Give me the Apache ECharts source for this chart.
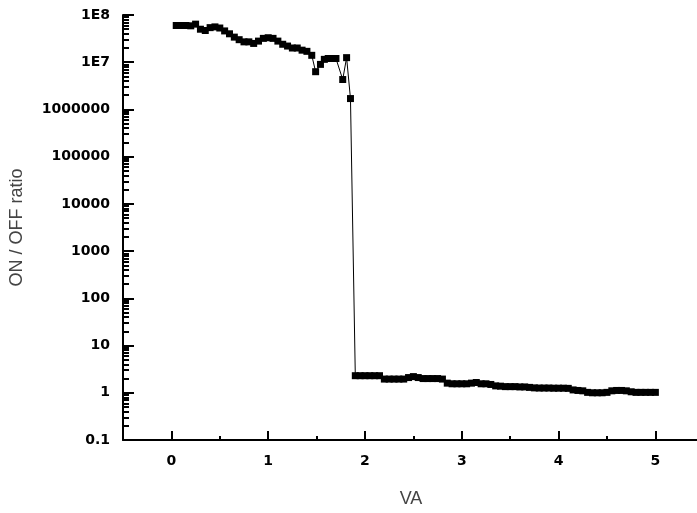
<!DOCTYPE html>
<html><head><meta charset="utf-8">
<script src="https://cdn.jsdelivr.net/npm/echarts@6/dist/echarts.min.js"></script>
<style>html,body{margin:0;padding:0;background:#fff}#c{width:697px;height:513px}</style>
</head><body><div id="c"></div>
<script>
const voltage = [0.05,0.10,0.15,0.20,0.25,0.30,0.35,0.40,0.45,0.50,0.55,0.60,0.65,0.70,0.75,0.80,0.85,0.90,0.95,1.00,1.05,1.10,1.15,1.20,1.25,1.30,1.35,1.40,1.45,1.49,1.54,1.58,1.62,1.66,1.70,1.77,1.81,1.85,
  1.90,1.95,2.00,2.05,2.10,2.15,2.20,2.25,2.30,2.35,2.40,2.45,2.50,2.55,2.60,2.65,2.70,2.75,2.80,2.85,2.90,2.95,3.00,3.05,3.10,3.15,3.20,3.25,3.30,3.35,3.40,3.45,3.50,3.55,3.60,3.65,3.70,3.75,3.80,3.85,3.90,3.95,4.00,4.05,4.10,4.15,4.20,4.25,4.30,4.35,4.40,4.45,4.50,4.55,4.60,4.65,4.70,4.75,4.80,4.85,4.90,4.95,5.00];
const ratio = [6.0e7,6.0e7,6.0e7,5.9e7,6.4e7,5.0e7,4.7e7,5.4e7,5.6e7,5.3e7,4.6e7,4.0e7,3.4e7,3.0e7,2.7e7,2.7e7,2.5e7,2.8e7,3.2e7,3.3e7,3.2e7,2.8e7,2.4e7,2.2e7,2.0e7,2.0e7,1.8e7,1.7e7,1.4e7,6.3e6,9.0e6,1.15e7,1.2e7,1.2e7,1.2e7,4.3e6,1.25e7,1.7e6,
  2.3,2.3,2.3,2.3,2.3,2.3,1.95,1.95,1.95,1.95,1.95,2.1,2.2,2.1,2.0,2.0,2.0,2.0,1.95,1.6,1.55,1.55,1.55,1.55,1.6,1.65,1.55,1.55,1.5,1.4,1.38,1.35,1.35,1.35,1.33,1.33,1.3,1.27,1.26,1.26,1.26,1.25,1.25,1.25,1.24,1.15,1.12,1.1,1.02,1.0,1.0,1.0,1.02,1.1,1.12,1.12,1.1,1.05,1.02,1.02,1.02,1.02,1.02];
const yTickValues = [0.1,1,10,100,1000,10000,100000,1000000,1e7,1e8];
const yTickLabels = ['0.1','1','10','100','1000','10000','100000','1000000','1E7','1E8'];
const xTickValues = [0,1,2,3,4,5];
const xMinorValues = [0.5,1.5,2.5,3.5,4.5];
const xTitle = 'VA';
const yTitle = 'ON / OFF ratio';

const yMinor = [];
for (let i = 0; i < yTickValues.length - 1; i++) {
  for (let k = 2; k <= 9; k++) yMinor.push(+(yTickValues[i] * k).toPrecision(3));
}
const points = voltage.map((v, i) => [v, ratio[i]]);

const lblFont = {fontFamily: 'DejaVu Sans', fontWeight: 'bold', fontSize: 14, color: '#000'};
const chart = echarts.init(document.getElementById('c'), null, {renderer: 'canvas'});
chart.setOption({
  animation: false,
  backgroundColor: '#fff',
  grid: {left: 123, right: 0, top: 15, bottom: 66},
  xAxis: [
    {type: 'value', min: -0.5, max: 5.43, position: 'bottom',
     axisLine: {show: true, onZero: false, lineStyle: {color: '#000', width: 2}},
     axisTick: {show: true, inside: true, length: 4, customValues: xMinorValues, lineStyle: {color: '#000', width: 2}},
     axisLabel: {show: false}, splitLine: {show: false},
     name: xTitle, nameLocation: 'middle', nameGap: 50,
     nameTextStyle: {fontFamily: 'Liberation Sans', fontSize: 18, color: '#444', padding: [0, 0, 0, 2]}},
    {type: 'value', min: -0.5, max: 5.43, position: 'bottom',
     axisLine: {show: false, onZero: false},
     axisTick: {show: true, inside: true, length: 9, customValues: xTickValues, lineStyle: {color: '#000', width: 2}},
     axisLabel: Object.assign({margin: 14, customValues: xTickValues, formatter: v => String(v)}, lblFont),
     splitLine: {show: false}}
  ],
  yAxis: [
    {type: 'log', logBase: 10, min: 0.1, max: 1e8, position: 'left',
     axisLine: {show: true, onZero: false, lineStyle: {color: '#000', width: 2}},
     axisTick: {show: true, inside: true, length: 11, customValues: yTickValues, lineStyle: {color: '#000', width: 2}},
     axisLabel: Object.assign({margin: 13, customValues: yTickValues,
       formatter: v => { const i = yTickValues.findIndex(t => Math.abs(Math.log10(t) - Math.log10(v)) < 1e-6); return i >= 0 ? yTickLabels[i] : ''; }}, lblFont),
     splitLine: {show: false},
     name: yTitle, nameLocation: 'middle', nameGap: 97, nameRotate: 90,
     nameTextStyle: {fontFamily: 'Liberation Sans', fontSize: 18, color: '#444'}},
    {type: 'log', logBase: 10, min: 0.1, max: 1e8, position: 'left', offset: 0,
     axisLine: {show: false, onZero: false},
     axisTick: {show: true, inside: true, length: 6, customValues: yMinor, lineStyle: {color: '#000', width: 2}},
     axisLabel: {show: false}, splitLine: {show: false}}
  ],
  series: [{
    type: 'line', xAxisIndex: 0, yAxisIndex: 0, data: points,
    symbol: 'rect', symbolSize: 7, showSymbol: true,
    lineStyle: {color: '#000', width: 1}, itemStyle: {color: '#000'}
  }]
});
</script></body></html>
